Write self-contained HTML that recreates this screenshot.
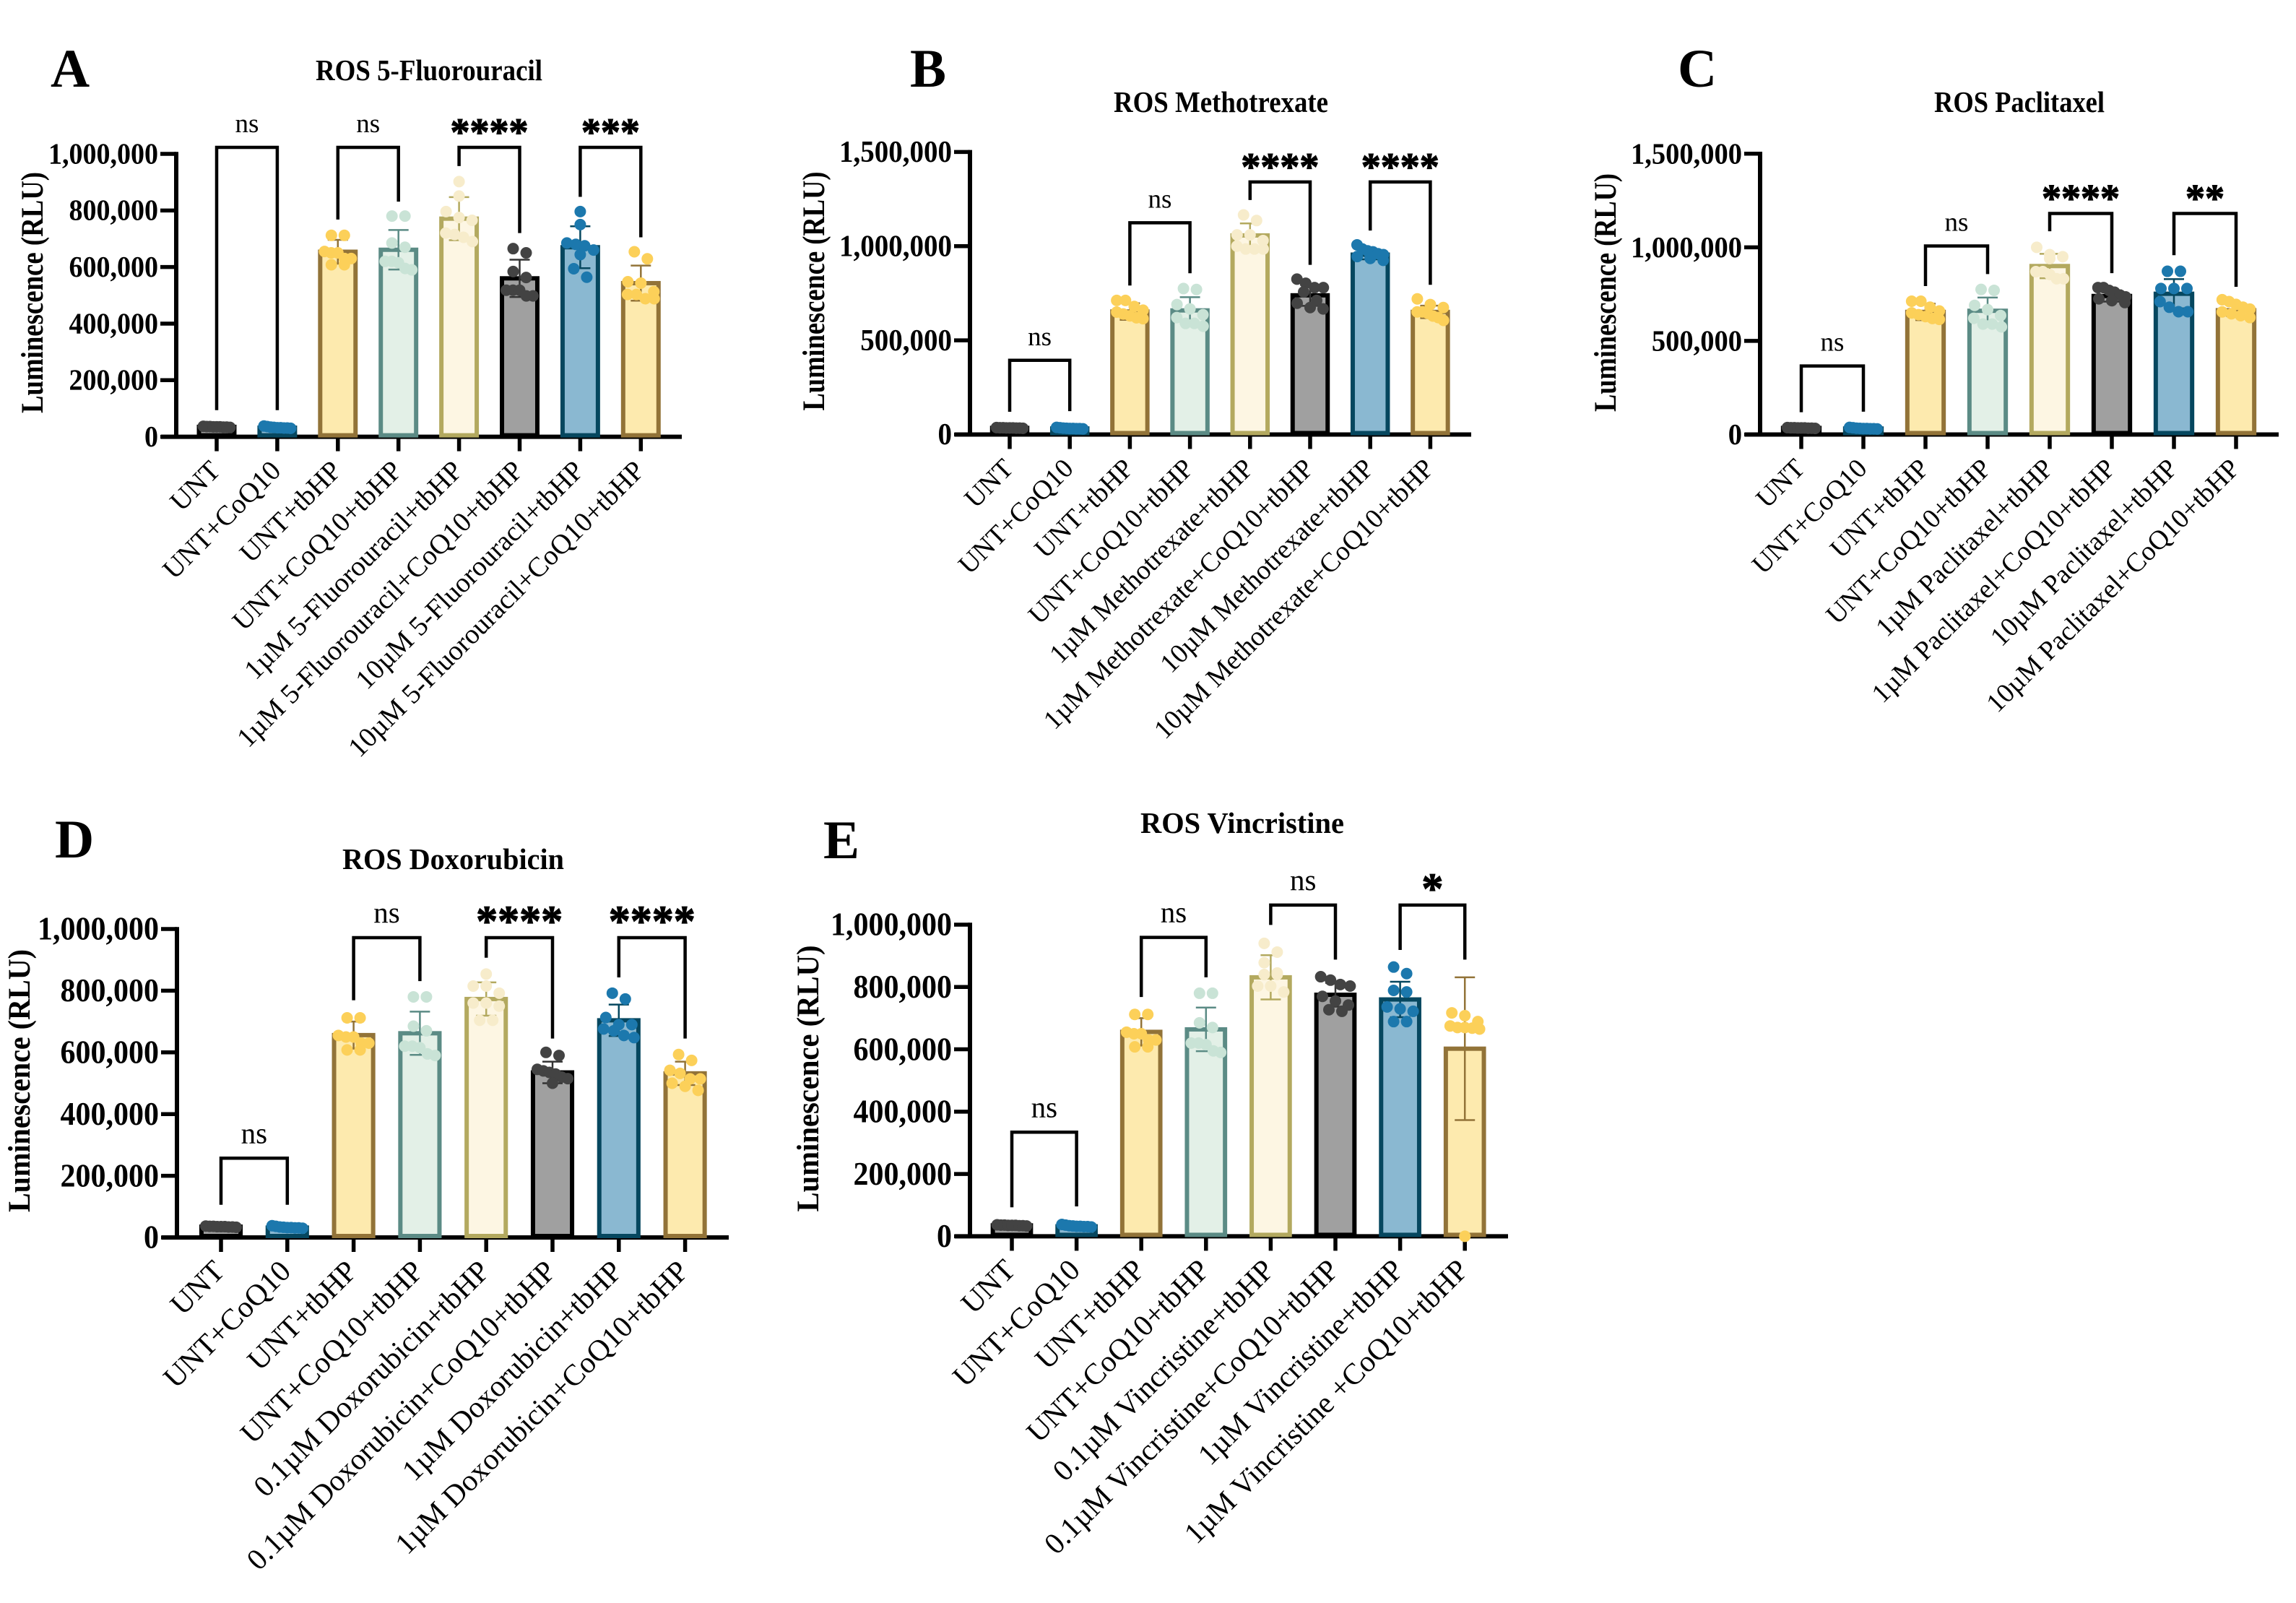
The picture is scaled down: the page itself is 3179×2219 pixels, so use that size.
<!DOCTYPE html>
<html>
<head>
<meta charset="utf-8">
<title>ROS luminescence panels</title>
<style>
html,body{margin:0;padding:0;background:#fff;width:3179px;height:2219px;overflow:hidden}
svg{display:block}
text{font-family:"Liberation Serif",serif;fill:#000}
.letter{font-size:75px;font-weight:bold}
.title{font-size:41px;font-weight:bold}
.ytitle{font-size:43px;font-weight:bold}
</style>
</head>
<body>
<svg id="chart" xmlns="http://www.w3.org/2000/svg" width="3179" height="2219" viewBox="0 0 3179 2219">
  <rect x="0" y="0" width="3179" height="2219" fill="#fff"/>

  <g id="panel-a">
    <text class="letter" x="70" y="120">A</text>
    <text class="title" x="437" y="111" textLength="314" lengthAdjust="spacingAndGlyphs">ROS 5-Fluorouracil</text>
    <text class="ytitle" transform="translate(59 405) rotate(-90)" text-anchor="middle" textLength="334" lengthAdjust="spacingAndGlyphs">Luminescence (RLU)</text>
  </g>
  <g id="panel-b">
    <text class="letter" x="1260" y="120">B</text>
    <text class="title" x="1542" y="155" textLength="297" lengthAdjust="spacingAndGlyphs">ROS Methotrexate</text>
    <text class="ytitle" transform="translate(1141 403) rotate(-90)" text-anchor="middle" textLength="331" lengthAdjust="spacingAndGlyphs">Luminescence (RLU)</text>
  </g>
  <g id="panel-c">
    <text class="letter" x="2323" y="120">C</text>
    <text class="title" x="2678" y="155" textLength="236" lengthAdjust="spacingAndGlyphs">ROS Paclitaxel</text>
    <text class="ytitle" transform="translate(2237 405) rotate(-90)" text-anchor="middle" textLength="330" lengthAdjust="spacingAndGlyphs">Luminescence (RLU)</text>
  </g>
  <g id="panel-d">
    <text class="letter" x="76" y="1187">D</text>
    <text class="title" x="474" y="1203" textLength="307" lengthAdjust="spacingAndGlyphs">ROS Doxorubicin</text>
    <text class="ytitle" transform="translate(41 1496) rotate(-90)" text-anchor="middle" textLength="364" lengthAdjust="spacingAndGlyphs">Luminescence (RLU)</text>
  </g>
  <g id="panel-e">
    <text class="letter" x="1140" y="1188">E</text>
    <text class="title" x="1579" y="1153" textLength="282" lengthAdjust="spacingAndGlyphs">ROS Vincristine</text>
    <text class="ytitle" transform="translate(1133 1493) rotate(-90)" text-anchor="middle" textLength="369" lengthAdjust="spacingAndGlyphs">Luminescence (RLU)</text>
  </g>
</svg>
<script>
// ---- Values are in thousands of RLU ----
const ticks1M = [0, 200, 400, 600, 800, 1000];
const tickLabels1M = ['0', '200,000', '400,000', '600,000', '800,000', '1,000,000'];
const ticks15M = [0, 500, 1000, 1500];
const tickLabels15M = ['0', '500,000', '1,000,000', '1,500,000'];

// Panel A
const aCategories = ['UNT', 'UNT+CoQ10', 'UNT+tbHP', 'UNT+CoQ10+tbHP', '1µM 5-Fluorouracil+tbHP', '1µM 5-Fluorouracil+CoQ10+tbHP', '10µM 5-Fluorouracil+tbHP', '10µM 5-Fluorouracil+CoQ10+tbHP'];
const aMeans = [35, 32, 654, 661, 771, 560, 670, 543];
const aSds = [4, 5, 42, 70, 76, 66, 74, 62];
const aPoints = [
  [33, 34, 34, 35, 35, 35, 36, 36, 37],
  [30, 31, 31, 32, 32, 33, 34, 36, 38],
  [712, 712, 655, 650, 650, 630, 630, 608, 608],
  [780, 780, 685, 670, 620, 620, 615, 595, 590],
  [902, 851, 796, 775, 765, 720, 715, 705, 690],
  [665, 650, 584, 563, 518, 518, 518, 498, 498],
  [796, 750, 685, 680, 675, 660, 644, 594, 564],
  [654, 629, 548, 543, 513, 503, 503, 488, 488]
];
const aBracketTops = [1023, 1023, 1023, 1023];
const aBracketLeft = [94, 768, 957, 848];
const aBracketRight = [94, 831, 720, 705];
const aBracketLabels = ['ns', 'ns', '****', '***'];

// Panel B
const bCategories = ['UNT', 'UNT+CoQ10', 'UNT+tbHP', 'UNT+CoQ10+tbHP', '1µM Methotrexate+tbHP', '1µM Methotrexate+CoQ10+tbHP', '10µM Methotrexate+tbHP', '10µM Methotrexate+CoQ10+tbHP'];
const bMeans = [35, 32, 653, 659, 1057, 739, 955, 651];
const bSds = [4, 5, 44, 70, 64, 56, 25, 33];
const bPoints = [
  [33, 34, 34, 35, 35, 35, 36, 36, 37],
  [30, 31, 31, 32, 32, 33, 34, 36, 38],
  [712, 712, 680, 660, 650, 640, 630, 620, 615],
  [775, 770, 690, 667, 636, 621, 590, 590, 575],
  [1166, 1136, 1060, 1060, 1030, 985, 985, 985, 1000],
  [825, 803, 780, 780, 757, 712, 697, 674, 667],
  [1007, 985, 975, 970, 960, 955, 945, 935, 925],
  [720, 690, 674, 651, 651, 644, 629, 621, 606]
];
const bBracketTops = [394, 1124, 1341, 1341];
const bBracketLeft = [121, 791, 1245, 1083];
const bBracketRight = [124, 856, 901, 795];
const bBracketLabels = ['ns', 'ns', '****', '****'];

// Panel C
const cCategories = ['UNT', 'UNT+CoQ10', 'UNT+tbHP', 'UNT+CoQ10+tbHP', '1µM Paclitaxel+tbHP', '1µM Paclitaxel+CoQ10+tbHP', '10µM Paclitaxel+tbHP', '10µM Paclitaxel+CoQ10+tbHP'];
const cMeans = [35, 32, 655, 661, 900, 740, 752, 664];
const cSds = [4, 5, 44, 71, 65, 30, 78, 30];
const cPoints = [
  [33, 34, 34, 35, 35, 35, 36, 36, 37],
  [30, 31, 31, 32, 32, 33, 34, 36, 38],
  [712, 712, 680, 660, 650, 640, 630, 620, 615],
  [775, 770, 690, 667, 636, 621, 590, 590, 575],
  [1000, 961, 950, 940, 870, 870, 855, 832, 832],
  [785, 785, 770, 760, 745, 735, 725, 715, 705],
  [872, 872, 780, 780, 780, 710, 680, 656, 656],
  [720, 710, 695, 680, 670, 655, 645, 635, 625]
];
const cBracketTops = [366, 1007, 1181, 1181];
const cBracketLeft = [119, 793, 1086, 958];
const cBracketRight = [122, 857, 862, 789];
const cBracketLabels = ['ns', 'ns', '****', '**'];

// Panel D
const dCategories = ['UNT', 'UNT+CoQ10', 'UNT+tbHP', 'UNT+CoQ10+tbHP', '0.1µM Doxorubicin+tbHP', '0.1µM Doxorubicin+CoQ10+tbHP', '1µM Doxorubicin+tbHP', '1µM Doxorubicin+CoQ10+tbHP'];
const dMeans = [35, 32, 656, 662, 773, 535, 704, 532];
const dSds = [4, 5, 44, 70, 54, 35, 51, 38];
const dPoints = [
  [33, 34, 34, 35, 35, 35, 36, 36, 37],
  [30, 31, 31, 32, 32, 33, 34, 36, 38],
  [712, 712, 655, 650, 650, 630, 630, 608, 608],
  [780, 780, 685, 670, 620, 620, 615, 595, 590],
  [854, 815, 815, 792, 760, 760, 750, 704, 704],
  [600, 590, 545, 540, 535, 530, 520, 515, 500],
  [792, 773, 713, 690, 690, 676, 670, 655, 648],
  [593, 574, 542, 532, 514, 514, 500, 490, 477]
];
const dBracketTops = [257, 972, 972, 972];
const dBracketLeft = [106, 769, 907, 843];
const dBracketRight = [106, 831, 645, 645];
const dBracketLabels = ['ns', 'ns', '****', '****'];

// Panel E
const eCategories = ['UNT', 'UNT+CoQ10', 'UNT+tbHP', 'UNT+CoQ10+tbHP', '0.1µM Vincristine+tbHP', '0.1µM Vincristine+CoQ10+tbHP', '1µM Vincristine+tbHP', '1µM Vincristine +CoQ10+tbHP'];
const eMeans = [35, 32, 656, 664, 831, 775, 760, 602];
const eSds = [4, 5, 44, 70, 71, 38, 57, 229];
const ePoints = [
  [33, 34, 34, 35, 35, 35, 36, 36, 37],
  [30, 31, 31, 32, 32, 33, 34, 36, 38],
  [712, 712, 655, 650, 650, 630, 630, 608, 608],
  [780, 780, 685, 670, 620, 620, 615, 595, 590],
  [940, 912, 878, 845, 840, 840, 803, 803, 784],
  [833, 822, 808, 803, 770, 755, 742, 727, 722],
  [864, 843, 789, 784, 736, 730, 722, 689, 689],
  [717, 708, 689, 675, 670, 670, 668, 665, 0]
];
const eBracketTops = [334, 959, 1063, 1063];
const eBracketLeft = [93, 768, 999, 919];
const eBracketRight = [96, 831, 888, 888];
const eBracketLabels = ['ns', 'ns', 'ns', '*'];

// ---- Styles per bar position ----
const barFills = ['#a0a0a0', '#8ab8d1', '#fdeaae', '#e3f0e7', '#fdf6e3', '#a0a0a0', '#8ab8d1', '#fdeaae'];
const barStrokes = ['#000000', '#06475f', '#927338', '#5b8b85', '#b3a95f', '#000000', '#06475f', '#927338'];
const dotFills = ['#434343', '#1c78ad', '#fcd059', '#c9e3d6', '#f7eccb', '#434343', '#1c78ad', '#fcd059'];

const SVGNS = 'http://www.w3.org/2000/svg';
function make(parent, tag, attrs, txt) {
  const el = document.createElementNS(SVGNS, tag);
  for (const k in attrs) el.setAttribute(k, attrs[k]);
  if (txt !== undefined) el.textContent = txt;
  parent.appendChild(el);
  return el;
}

// Prism-like arrangement: similar values share a row and spread symmetrically.
function layoutPoints(values, y, span) {
  const sorted = values.slice().sort(function (p, q) { return q - p; });
  const placed = [];
  let row = [];
  const flush = function () {
    const n = row.length;
    const step = n > 1 ? Math.min(18, 2 * span / (n - 1)) : 0;
    row.forEach(function (v, i) { placed.push({ v: v, dx: (i - (n - 1) / 2) * step }); });
    row = [];
  };
  sorted.forEach(function (v) {
    if (row.length && y(v) - y(row[0]) > 15) flush();
    row.push(v);
  });
  flush();
  return placed;
}

function drawPanel(id, cfg, categories, means, sds, points, ticks, tickLabels, brTops, brLeft, brRight, brLabels) {
  const root = document.getElementById(id);
  const y = function (v) { return cfg.bottom - (v / cfg.max) * (cfg.bottom - cfg.top); };
  const x = function (i) { return cfg.x0 + i * cfg.step; };
  const barW = cfg.step * 0.655;

  ticks.forEach(function (t, i) {
    const tick = make(root, 'line', { x1: cfg.axisX - 22, x2: cfg.axisX, y1: y(t), y2: y(t), stroke: '#000', 'stroke-width': 5.5 });
    
    
    const label = tickLabels[i];
    const commas = label.split(',').length - 1;
    const width = ((label.length - commas) * 0.5 + commas * 0.25) * cfg.tickFont;
    const lab = make(root, 'text', { x: cfg.axisX - 25, y: y(t) + cfg.tickFont * 0.35, 'text-anchor': 'end', 'font-size': cfg.tickFont * 1.08, 'font-weight': 'bold', textLength: width, lengthAdjust: 'spacingAndGlyphs' }, label);
    
    
  });

  const yAxis = make(root, 'line', { x1: cfg.axisX, x2: cfg.axisX, y1: cfg.top - 2.75, y2: cfg.bottom, stroke: '#000', 'stroke-width': 6 });
  
  
  const xAxis = make(root, 'line', { x1: cfg.axisX - 21, x2: cfg.xEnd, y1: cfg.bottom, y2: cfg.bottom, stroke: '#000', 'stroke-width': 6 });
  
  

  categories.forEach(function (c, i) {
    const tick = make(root, 'line', { x1: x(i), x2: x(i), y1: cfg.bottom, y2: cfg.bottom + 20, stroke: '#000', 'stroke-width': 5.5 });
    
    
    const lx = x(i) + 7, ly = cfg.bottom + cfg.labelDrop;
    const lab = make(root, 'text', { x: lx, y: ly, 'text-anchor': 'end', 'font-size': cfg.labelFont, transform: 'rotate(-45 ' + lx + ' ' + ly + ')' }, c);
    
    
  });

  categories.forEach(function (c, i) {
    const sw = 6;
    const bar = make(root, 'rect', { x: x(i) - barW / 2 + sw / 2, y: y(means[i]), width: barW - sw, height: y(0) - y(means[i]) - 2, fill: barFills[i], stroke: barStrokes[i], 'stroke-width': sw });
    
    
  });

  categories.forEach(function (c, i) {
    const hi = y(means[i] + sds[i]), lo = y(means[i] - sds[i]);
    const stroke = barStrokes[i] === '#000000' ? '#333' : barStrokes[i];
    const err = make(root, 'path', { d: 'M' + (x(i) - 14) + ' ' + hi + 'H' + (x(i) + 14) + 'M' + x(i) + ' ' + hi + 'V' + lo + 'M' + (x(i) - 14) + ' ' + lo + 'H' + (x(i) + 14), fill: 'none', stroke: stroke, 'stroke-width': 2.5 });
    
    
    layoutPoints(points[i], y, barW / 2 - 9).forEach(function (p) {
      const dot = make(root, 'circle', { cx: x(i) + p.dx, cy: y(p.v), r: 8, fill: dotFills[i] });
      
      
    });
  });

  brLabels.forEach(function (label, i) {
    const xl = x(i * 2), xr = x(i * 2 + 1);
    const br = make(root, 'path', { d: 'M' + xl + ' ' + y(brLeft[i]) + 'V' + y(brTops[i]) + 'H' + xr + 'V' + y(brRight[i]), fill: 'none', stroke: '#000', 'stroke-width': 4.5 });
    
    
    const stars = label !== 'ns';
    const t = make(root, 'text', {
      x: (xl + xr) / 2,
      y: y(brTops[i]) - (stars ? 3 : 21),
      'text-anchor': 'middle',
      'font-size': stars ? cfg.starFont : cfg.nsFont,
      'font-weight': stars ? 'bold' : 'normal',
      stroke: stars ? '#000' : 'none',
      'stroke-width': stars ? 1.2 : 0
    }, label);
    
    
  });
}

const cfgA = { axisX: 244, top: 213, bottom: 604.6, x0: 300, step: 83.9, xEnd: 944, max: 1000, tickFont: 38, labelFont: 38.5, labelDrop: 49, nsFont: 37, starFont: 54 };
const cfgB = { axisX: 1343, top: 210.4, bottom: 601.5, x0: 1398, step: 83.2, xEnd: 2037, max: 1500, tickFont: 39, labelFont: 37.5, labelDrop: 49, nsFont: 37, starFont: 54 };
const cfgC = { axisX: 2437, top: 212.8, bottom: 601.5, x0: 2494, step: 86, xEnd: 3155, max: 1500, tickFont: 38.5, labelFont: 37.5, labelDrop: 49, nsFont: 37, starFont: 54 };
const cfgD = { axisX: 245, top: 1286, bottom: 1713, x0: 306, step: 91.8, xEnd: 1009, max: 1000, tickFont: 42, labelFont: 41.5, labelDrop: 49, nsFont: 41, starFont: 60 };
const cfgE = { axisX: 1343, top: 1280, bottom: 1711.4, x0: 1401, step: 89.6, xEnd: 2088, max: 1000, tickFont: 42, labelFont: 41.5, labelDrop: 49, nsFont: 41, starFont: 60 };

drawPanel('panel-a', cfgA, aCategories, aMeans, aSds, aPoints, ticks1M, tickLabels1M, aBracketTops, aBracketLeft, aBracketRight, aBracketLabels);
drawPanel('panel-b', cfgB, bCategories, bMeans, bSds, bPoints, ticks15M, tickLabels15M, bBracketTops, bBracketLeft, bBracketRight, bBracketLabels);
drawPanel('panel-c', cfgC, cCategories, cMeans, cSds, cPoints, ticks15M, tickLabels15M, cBracketTops, cBracketLeft, cBracketRight, cBracketLabels);
drawPanel('panel-d', cfgD, dCategories, dMeans, dSds, dPoints, ticks1M, tickLabels1M, dBracketTops, dBracketLeft, dBracketRight, dBracketLabels);
drawPanel('panel-e', cfgE, eCategories, eMeans, eSds, ePoints, ticks1M, tickLabels1M, eBracketTops, eBracketLeft, eBracketRight, eBracketLabels);
</script>
</body>
</html>
